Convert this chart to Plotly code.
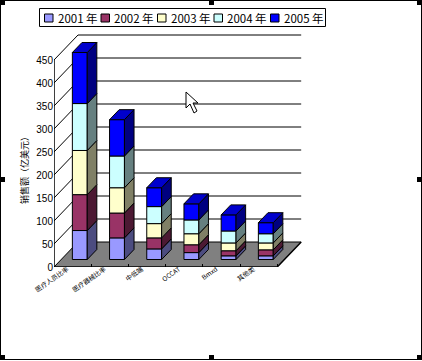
import plotly.graph_objects as go

categories = ["医疗人员比率", "医疗器械比率", "中低端", "OCCAT", "Bmxd", "其他类"]
years = ["2001 年", "2002 年", "2003 年", "2004 年", "2005 年"]
v2001 = [63, 47, 23, 15, 8, 8]
v2002 = [78, 54, 24, 17, 11, 13]
v2003 = [96, 55, 31, 24, 17, 15]
v2004 = [102, 69, 37, 30, 26, 20]
v2005 = [111, 79, 41, 35, 35, 24]
series = [v2001, v2002, v2003, v2004, v2005]
front_colors = ["#9999FF", "#993366", "#FFFFCC", "#CCFFFF", "#0000FF"]
side_colors = ["#4C4C80", "#4C1933", "#808066", "#668080", "#000080"]
top_color = "#0000CC"
y_ticks = [0, 50, 100, 150, 200, 250, 300, 350, 400, 450]
y_title = "销售额（亿美元）"

W, H = 422, 361
PX_X0, PX_Y0 = 54, 267          # front-floor origin of the oblique box
PX_RIGHT, PX_TOP = 303, 32      # whole-pixel plot-area edges
PX_PER_CAT, PX_PER_VAL = 37.2, 0.46
XMAX = (PX_RIGHT - PX_X0) / PX_PER_CAT
YMAX = (PX_Y0 - PX_TOP) / PX_PER_VAL
DEPTH_X, DEPTH_Y = 24 / PX_PER_CAT, 25 / PX_PER_VAL
CAT_SPAN = 6.0
BAR_W, NEAR, FAR = 0.40, 0.30, 0.70
CJK = "Noto Sans CJK SC"


def paper_x(px):
    return (px - PX_X0) / (PX_RIGHT - PX_X0)


def paper_y(py):
    return (PX_Y0 - py) / (PX_Y0 - PX_TOP)


def box(x0, y0, x1, y1, fill="black", line=None, lw=0):
    return dict(type="rect", xref="paper", yref="paper",
                x0=paper_x(x0), x1=paper_x(x1), y0=paper_y(y0), y1=paper_y(y1),
                fillcolor=fill, line=dict(color=line or fill, width=lw), layer="above")


fig = go.Figure()
shapes = []
wall_x = CAT_SPAN

# floor, walls and gridlines (beneath everything)
shapes.append(dict(type="path", xref="x", yref="y", layer="below", fillcolor="#808080",
                   line=dict(width=0),
                   path=f"M0,0 L{DEPTH_X},{DEPTH_Y} L{wall_x + DEPTH_X},{DEPTH_Y} L{wall_x},0 Z"))
for t in y_ticks:
    shapes.append(dict(type="line", xref="x", yref="y", layer="below",
                       x0=DEPTH_X, x1=wall_x + DEPTH_X, y0=t + DEPTH_Y, y1=t + DEPTH_Y,
                       line=dict(color="black", width=1)))
    shapes.append(dict(type="line", xref="x", yref="y", layer="below",
                       x0=0, x1=DEPTH_X, y0=t, y1=t + DEPTH_Y,
                       line=dict(color="black", width=1)))

# stacked columns in oblique projection
dx_n, dy_n = NEAR * DEPTH_X, NEAR * DEPTH_Y
dx_d, dy_d = (FAR - NEAR) * DEPTH_X, (FAR - NEAR) * DEPTH_Y
cum = [0] * len(categories)
for s, values in enumerate(series):
    centers = [i + 0.5 + dx_n for i in range(len(categories))]
    bases = [c + dy_n for c in cum]
    fig.add_trace(go.Bar(x=centers, y=values, base=bases, width=BAR_W, name=years[s],
                         marker=dict(color=front_colors[s], line=dict(color="black", width=1)),
                         showlegend=False, hoverinfo="skip"))
    for i, v in enumerate(values):
        xr = centers[i] + BAR_W / 2
        b, t = bases[i], bases[i] + v
        fig.add_trace(go.Scatter(x=[xr, xr + dx_d, xr + dx_d, xr, xr],
                                 y=[b, b + dy_d, t + dy_d, t, b],
                                 mode="lines", fill="toself", fillcolor=side_colors[s],
                                 line=dict(color="black", width=1),
                                 showlegend=False, hoverinfo="skip", cliponaxis=False))
        if s == len(series) - 1:
            xl = centers[i] - BAR_W / 2
            fig.add_trace(go.Scatter(x=[xl, xl + dx_d, xr + dx_d, xr, xl],
                                     y=[t, t + dy_d, t + dy_d, t, t],
                                     mode="lines", fill="toself", fillcolor=top_color,
                                     line=dict(color="black", width=1),
                                     showlegend=False, hoverinfo="skip", cliponaxis=False))
    cum = [c + v for c, v in zip(cum, values)]

# front axis lines and floor outline
fig.add_trace(go.Scatter(x=[0, 0, wall_x, wall_x + DEPTH_X], y=[y_ticks[-1], 0, 0, DEPTH_Y],
                         mode="lines", line=dict(color="black", width=1.5),
                         showlegend=False, hoverinfo="skip", cliponaxis=False))

# legend box
LEG_X0, LEG_Y0, LEG_X1, LEG_Y1 = 39.5, 8.5, 325.5, 26.5
shapes.append(box(LEG_X0, LEG_Y0, LEG_X1, LEG_Y1, fill="white", line="black", lw=1))
annotations = []
for s, name in enumerate(years):
    sx = 44.5 + s * 56.5
    shapes.append(box(sx, 14, sx + 8.5, 22, fill=front_colors[s], line="black", lw=1))
    annotations.append(dict(xref="paper", yref="paper", x=paper_x(sx + 11), y=paper_y(17.5),
                            text=name, showarrow=False, xanchor="left", yanchor="middle",
                            font=dict(family=CJK, size=11.5, color="black")))

# y title
annotations.append(dict(xref="paper", yref="paper", x=paper_x(24), y=paper_y(168),
                        text=y_title, textangle=-90, showarrow=False,
                        xanchor="center", yanchor="middle",
                        font=dict(family=CJK, size=9, color="black")))

# selection frame and handles around the picture
shapes.append(box(0.5, 0.5, 421.5, 359.5, fill="rgba(0,0,0,0)", line="black", lw=1))
for hx, hy in [(0, 0), (209, 0), (417, 0), (0, 177), (417, 177), (0, 355), (209, 355), (417, 355)]:
    shapes.append(box(hx, hy, hx + 5, hy + 5))

# mouse pointer
pts = [(186, 92), (186, 108), (190, 104), (194, 113), (197, 111), (193, 103), (198, 103)]
shapes.append(dict(type="path", xref="paper", yref="paper", layer="above", fillcolor="white",
                   line=dict(color="black", width=1),
                   path="M" + " L".join(f"{paper_x(a)},{paper_y(b)}" for a, b in pts) + " Z"))

fig.update_layout(
    width=W, height=H, paper_bgcolor="white", plot_bgcolor="white",
    margin=dict(l=PX_X0, r=W - PX_RIGHT, t=PX_TOP, b=H - PX_Y0, pad=0, autoexpand=False),
    barmode="overlay", showlegend=False, shapes=shapes, annotations=annotations,
    xaxis=dict(range=[0, XMAX], showgrid=False, zeroline=False, showline=False,
               tickmode="array", tickvals=[i + 0.36 for i in range(len(categories))],
               ticktext=categories, tickangle=-35, ticks="outside", ticklen=1,
               tickcolor="rgba(0,0,0,0)", ticklabelstandoff=-6,
               tickfont=dict(family=CJK, size=6.5, color="black"),
               minor=dict(tickmode="array", tickvals=list(range(1, len(categories) + 1)),
                          ticks="inside", ticklen=3, tickcolor="black", showgrid=False)),
    yaxis=dict(range=[0, YMAX], showgrid=False, zeroline=False, showline=False,
               tickmode="array", tickvals=y_ticks, ticks="",
               tickfont=dict(family="Liberation Sans", size=10, color="black")),
)
fig.write_html("out.html", config=dict(displayModeBar=False),
               post_script="document.body.style.margin='0';document.body.style.overflow='hidden';")
